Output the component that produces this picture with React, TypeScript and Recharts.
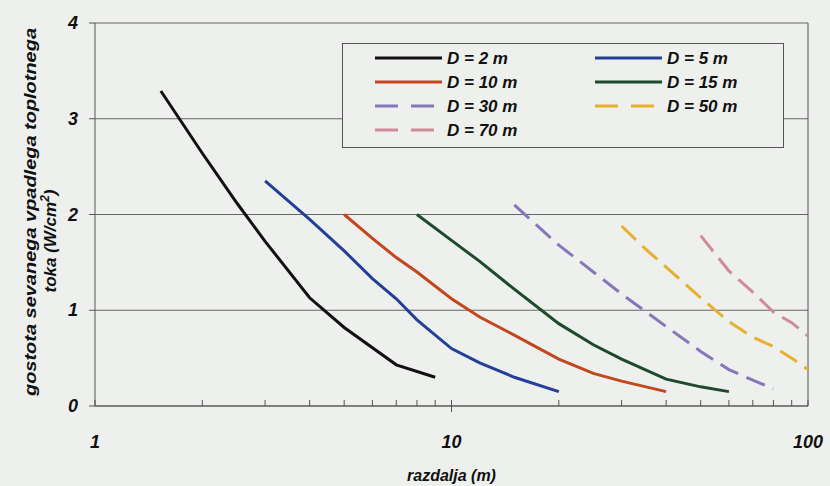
import * as React from "react";
import {
  LineChart,
  Line,
  XAxis,
  YAxis,
  CartesianGrid,
  ReferenceLine,
  Legend,
} from "recharts";

interface Pt {
  x: number;
  y: number;
}

const d2: Pt[] = [
  { x: 1.53, y: 3.29 },
  { x: 2, y: 2.64 },
  { x: 2.5, y: 2.12 },
  { x: 3, y: 1.72 },
  { x: 4, y: 1.13 },
  { x: 5, y: 0.82 },
  { x: 7, y: 0.43 },
  { x: 9, y: 0.3 },
];
const d5: Pt[] = [
  { x: 3, y: 2.35 },
  { x: 4, y: 1.95 },
  { x: 5, y: 1.62 },
  { x: 6, y: 1.33 },
  { x: 7, y: 1.12 },
  { x: 8, y: 0.9 },
  { x: 10, y: 0.6 },
  { x: 12, y: 0.45 },
  { x: 15, y: 0.3 },
  { x: 20, y: 0.15 },
];
const d10: Pt[] = [
  { x: 5, y: 2.0 },
  { x: 6, y: 1.75 },
  { x: 7, y: 1.55 },
  { x: 8, y: 1.4 },
  { x: 10, y: 1.12 },
  { x: 12, y: 0.93 },
  { x: 15, y: 0.74 },
  { x: 20, y: 0.49 },
  { x: 25, y: 0.34 },
  { x: 30, y: 0.26 },
  { x: 40, y: 0.15 },
];
const d15: Pt[] = [
  { x: 8, y: 2.0 },
  { x: 10, y: 1.73 },
  { x: 12, y: 1.51 },
  { x: 15, y: 1.22 },
  { x: 20, y: 0.86 },
  { x: 25, y: 0.64 },
  { x: 30, y: 0.49 },
  { x: 40, y: 0.28 },
  { x: 50, y: 0.2 },
  { x: 60, y: 0.15 },
];
const d30: Pt[] = [
  { x: 15, y: 2.1 },
  { x: 20, y: 1.68 },
  { x: 25, y: 1.4 },
  { x: 30, y: 1.17 },
  { x: 40, y: 0.83 },
  { x: 50, y: 0.57 },
  { x: 60, y: 0.38 },
  { x: 70, y: 0.27 },
  { x: 80, y: 0.18 },
];
const d50: Pt[] = [
  { x: 30, y: 1.88 },
  { x: 35, y: 1.64 },
  { x: 40, y: 1.45 },
  { x: 50, y: 1.13 },
  { x: 60, y: 0.88 },
  { x: 70, y: 0.72 },
  { x: 80, y: 0.62 },
  { x: 90, y: 0.5 },
  { x: 100, y: 0.38 },
];
const d70: Pt[] = [
  { x: 50, y: 1.78 },
  { x: 60, y: 1.41 },
  { x: 70, y: 1.19 },
  { x: 80, y: 0.98 },
  { x: 90, y: 0.87 },
  { x: 100, y: 0.73 },
];

const xTicks = [1, 2, 3, 4, 5, 6, 7, 8, 9, 10, 20, 30, 40, 50, 60, 70, 80, 90, 100];
const xLabels = [1, 10, 100];
const yTicks = [0, 1, 2, 3, 4];

const series = [
  { name: "D = 2 m", data: d2, color: "#111111", dash: undefined },
  { name: "D = 5 m", data: d5, color: "#243f98", dash: undefined },
  { name: "D = 10 m", data: d10, color: "#c2461e", dash: undefined },
  { name: "D = 15 m", data: d15, color: "#1d4a2d", dash: undefined },
  { name: "D = 30 m", data: d30, color: "#8577bb", dash: "20 9" },
  { name: "D = 50 m", data: d50, color: "#e6b030", dash: "20 9" },
  { name: "D = 70 m", data: d70, color: "#cf8c98", dash: "20 9" },
];

const font = "'Liberation Sans', Arial, sans-serif";

const XTick = (props: any) => {
  const { x, y, payload } = props;
  const v = payload.value;
  const major = xLabels.includes(v);
  return (
    <g>
      <line x1={x} x2={x} y1={y - 6} y2={major && v !== 1 && v !== 100 ? y + 6 : y} stroke="#555" strokeWidth={1} />
      {major && (
        <text
          x={x}
          y={y + 42}
          textAnchor="middle"
          fontFamily={font}
          fontWeight="bold"
          fontStyle="italic"
          fontSize={18}
          fill="#111"
        >
          {v}
        </text>
      )}
    </g>
  );
};

const YTick = (props: any) => {
  const { x, y, payload } = props;
  return (
    <g>
      <line x1={x - 6} x2={x} y1={y} y2={y} stroke="#555" strokeWidth={1} />
      <text
        x={x - 17}
        y={y + 6}
        textAnchor="end"
        fontFamily={font}
        fontWeight="bold"
        fontStyle="italic"
        fontSize={18}
        fill="#111"
      >
        {payload.value}
      </text>
    </g>
  );
};

const LegendBox = () => {
  const rows = [
    [series[0], series[1]],
    [series[2], series[3]],
    [series[4], series[5]],
    [series[6]],
  ];
  return (
    <svg width={442} height={105} style={{ display: "block" }}>
      <rect x={0.5} y={0.5} width={441} height={104} fill="#eef0ed" stroke="#555" />
      {rows.map((row, r) =>
        row.map((s, c) => {
          const lx = c === 0 ? 33 : 253;
          const cy = 15 + r * 24;
          return (
            <g key={s.name}>
              <line
                x1={lx}
                x2={lx + 67}
                y1={cy}
                y2={cy}
                stroke={s.color}
                strokeWidth={3}
                strokeDasharray={s.dash ? "23 13" : undefined}
              />
              <text
                x={lx + 72}
                y={cy + 6}
                fontFamily={font}
                fontWeight="bold"
                fontStyle="italic"
                fontSize={17}
                fill="#111"
              >
                {s.name}
              </text>
            </g>
          );
        })
      )}
    </svg>
  );
};

export default function App() {
  return (
    <div
      style={{
        position: "absolute",
        left: 0,
        top: 0,
        width: 830,
        height: 486,
        background: "#eef0ed",
      }}
    >
      <LineChart
        width={830}
        height={486}
        margin={{ top: 23, right: 22, bottom: 0, left: 0 }}
      >
        <CartesianGrid
          horizontal={true}
          vertical={false}
          stroke="#666"
          strokeWidth={1}
        />
        <XAxis
          dataKey="x"
          type="number"
          scale="log"
          domain={[1, 100]}
          ticks={xTicks}
          interval={0}
          allowDataOverflow
          height={80}
          tickSize={0}
          tickMargin={0}
          tickLine={false}
          tick={<XTick />}
          stroke="#555"
          label={{
            value: "razdalja (m)",
            position: "insideBottom",
            offset: 5,
            style: {
              fontFamily: font,
              fontWeight: "bold",
              fontStyle: "italic",
              fontSize: 16,
              fill: "#111",
            },
          }}
        />
        <YAxis
          type="number"
          domain={[0, 4]}
          ticks={yTicks}
          width={95}
          tickSize={0}
          tickMargin={0}
          tickLine={false}
          tick={<YTick />}
          stroke="#555"
        />
        <ReferenceLine x={100} stroke="#555" />
        <Legend
          content={<LegendBox />}
          layout="horizontal"
          verticalAlign="middle"
          align="center"
          wrapperStyle={{ top: 43, left: 342, width: 442 }}
        />
        {series.map((s) => (
          <Line
            key={s.name}
            data={s.data}
            dataKey="y"
            name={s.name}
            type="linear"
            stroke={s.color}
            strokeWidth={3}
            strokeDasharray={s.dash}
            dot={false}
            activeDot={false}
            isAnimationActive={false}
          />
        ))}
        <text
          transform="translate(36,212) rotate(-90)"
          textAnchor="middle"
          fontFamily={font}
          fontWeight="bold"
          fontStyle="italic"
          fontSize={17}
          textLength={368}
          lengthAdjust="spacingAndGlyphs"
          fill="#111"
        >
          gostota sevanega vpadlega toplotnega
        </text>
        <text
          transform="translate(56,241) rotate(-90)"
          textAnchor="middle"
          fontFamily={font}
          fontWeight="bold"
          fontStyle="italic"
          fontSize={17}
          fill="#111"
        >
          toka (W/cm<tspan dy={-7} fontSize={12}>2</tspan>
          <tspan dy={7}>)</tspan>
        </text>
      </LineChart>
    </div>
  );
}
